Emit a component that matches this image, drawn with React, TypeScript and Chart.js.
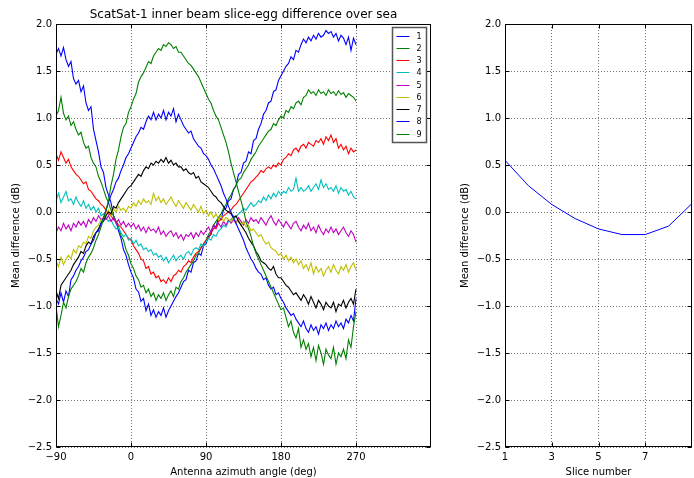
import React, { useEffect, useRef } from 'react';
import { Chart, registerables } from 'chart.js';

Chart.register(...registerables);

// Antenna azimuth angle (deg) sample positions
const angles = [
  -90, -87, -84, -81, -78, -75, -72, -69, -66, -63,
  -60, -57, -54, -51, -48, -45, -42, -39, -36, -33,
  -30, -27, -24, -21, -18, -15, -12, -9, -6, -3,
  0, 3, 6, 9, 12, 15, 18, 21, 24, 27,
  30, 33, 36, 39, 42, 45, 48, 51, 54, 57,
  60, 63, 66, 69, 72, 75, 78, 81, 84, 87,
  90, 93, 96, 99, 102, 105, 108, 111, 114, 117,
  120, 123, 126, 129, 132, 135, 138, 141, 144, 147,
  150, 153, 156, 159, 162, 165, 168, 171, 174, 177,
  180, 183, 186, 189, 192, 195, 198, 201, 204, 207,
  210, 213, 216, 219, 222, 225, 228, 231, 234, 237,
  240, 243, 246, 249, 252, 255, 258, 261, 264, 267,
  270,
];

const slice1 = [
  1.68, 1.74, 1.66, 1.75, 1.62, 1.55, 1.60, 1.42, 1.36, 1.40,
  1.28, 1.34, 1.16, 1.08, 1.12, 0.88, 0.76, 0.64, 0.48, 0.42,
  0.26, 0.18, 0.10, -0.04, -0.10, -0.20, -0.28, -0.40, -0.46, -0.56,
  -0.64, -0.70, -0.82, -0.85, -0.95, -0.92, -1.05, -0.98, -1.10, -1.04,
  -1.12, -1.06, -1.10, -1.02, -1.12, -1.05, -1.00, -0.95, -0.90, -0.86,
  -0.80, -0.74, -0.72, -0.62, -0.64, -0.54, -0.52, -0.44, -0.46, -0.36,
  -0.34, -0.26, -0.24, -0.14, -0.16, -0.06, -0.08, 0.02, 0.04, 0.12,
  0.14, 0.24, 0.28, 0.40, 0.42, 0.52, 0.54, 0.64, 0.62, 0.76,
  0.78, 0.88, 0.94, 1.04, 1.08, 1.16, 1.18, 1.28, 1.30, 1.40,
  1.45, 1.50, 1.55, 1.58, 1.65, 1.62, 1.72, 1.70, 1.78, 1.84,
  1.80, 1.86, 1.82, 1.88, 1.84, 1.90, 1.86, 1.88, 1.93, 1.90,
  1.92, 1.86, 1.90, 1.82, 1.88, 1.85, 1.78, 1.86, 1.72, 1.85,
  1.78,
];

const slice2 = [
  1.02, 1.08, 1.22, 1.05, 0.98, 1.02, 0.92, 0.96, 0.88, 0.82,
  0.85, 0.74, 0.68, 0.70, 0.58, 0.52, 0.48, 0.38, 0.32, 0.24,
  0.16, 0.10, 0.02, -0.04, -0.10, -0.16, -0.25, -0.30, -0.40, -0.46,
  -0.55, -0.60, -0.68, -0.72, -0.80, -0.78, -0.86, -0.82, -0.90, -0.86,
  -0.94, -0.88, -0.92, -0.86, -0.94, -0.88, -0.84, -0.90, -0.80, -0.82,
  -0.74, -0.70, -0.64, -0.60, -0.56, -0.52, -0.46, -0.44, -0.38, -0.34,
  -0.30, -0.24, -0.20, -0.14, -0.10, -0.06, -0.02, 0.04, 0.08, 0.14,
  0.18, 0.24, 0.28, 0.34, 0.36, 0.42, 0.46, 0.50, 0.56, 0.60,
  0.64, 0.70, 0.74, 0.78, 0.82, 0.86, 0.88, 0.94, 0.92, 0.98,
  1.02, 1.00, 1.08, 1.06, 1.12, 1.10, 1.16, 1.18, 1.14, 1.22,
  1.24, 1.30, 1.26, 1.28, 1.24, 1.30, 1.26, 1.28, 1.24, 1.30,
  1.26, 1.28, 1.24, 1.29, 1.25, 1.27, 1.22, 1.26, 1.24, 1.22,
  1.18,
];

const slice3 = [
  0.62, 0.55, 0.64, 0.58, 0.52, 0.56, 0.48, 0.44, 0.40, 0.38,
  0.34, 0.30, 0.32, 0.24, 0.22, 0.18, 0.14, 0.12, 0.08, 0.06,
  0.02, -0.02, -0.04, -0.08, -0.10, -0.14, -0.16, -0.20, -0.24, -0.28,
  -0.30, -0.36, -0.40, -0.44, -0.50, -0.52, -0.60, -0.58, -0.66, -0.64,
  -0.70, -0.68, -0.74, -0.72, -0.76, -0.70, -0.74, -0.68, -0.66, -0.62,
  -0.64, -0.58, -0.56, -0.52, -0.54, -0.48, -0.44, -0.42, -0.38, -0.34,
  -0.30, -0.28, -0.22, -0.18, -0.16, -0.10, -0.08, -0.04, -0.02, 0.00,
  0.02, 0.06, 0.08, 0.12, 0.16, 0.20, 0.24, 0.28, 0.32, 0.34,
  0.37, 0.40, 0.44, 0.42, 0.46, 0.48, 0.46, 0.50, 0.48, 0.52,
  0.50, 0.56, 0.58, 0.62, 0.60, 0.66, 0.68, 0.64, 0.70, 0.72,
  0.68, 0.74, 0.72, 0.70, 0.76, 0.74, 0.78, 0.72, 0.80, 0.76,
  0.82, 0.74, 0.78, 0.68, 0.72, 0.66, 0.70, 0.62, 0.68, 0.64,
  0.66,
];

const slice4 = [
  0.12, 0.20, 0.10, 0.16, 0.22, 0.12, 0.14, 0.08, 0.16, 0.10,
  0.06, 0.12, 0.04, 0.08, 0.02, 0.06, 0.00, 0.04, -0.04, -0.02,
  -0.06, -0.10, -0.08, -0.14, -0.18, -0.16, -0.22, -0.26, -0.24, -0.30,
  -0.28, -0.34, -0.30, -0.36, -0.34, -0.40, -0.38, -0.42, -0.40, -0.46,
  -0.44, -0.48, -0.46, -0.52, -0.48, -0.54, -0.50, -0.46, -0.52, -0.48,
  -0.46, -0.50, -0.44, -0.42, -0.46, -0.40, -0.38, -0.40, -0.34, -0.36,
  -0.32, -0.28, -0.30, -0.24, -0.26, -0.20, -0.18, -0.14, -0.16, -0.10,
  -0.08, -0.04, -0.06, -0.02, 0.00, 0.04, 0.02, 0.06, 0.10, 0.06,
  0.08, 0.12, 0.10, 0.16, 0.12, 0.18, 0.14, 0.20, 0.16, 0.22,
  0.18, 0.22, 0.20, 0.26, 0.22, 0.24, 0.36, 0.22, 0.26, 0.22,
  0.24, 0.28, 0.22, 0.26, 0.30, 0.24, 0.34, 0.26, 0.30, 0.24,
  0.26, 0.22, 0.28, 0.20, 0.26, 0.22, 0.24, 0.18, 0.22, 0.16,
  0.14,
];

const slice5 = [
  -0.22, -0.16, -0.20, -0.12, -0.18, -0.14, -0.20, -0.12, -0.16, -0.10,
  -0.14, -0.10, -0.16, -0.08, -0.12, -0.06, -0.10, -0.04, -0.08, -0.06,
  -0.08, -0.04, -0.10, -0.06, -0.12, -0.08, -0.14, -0.10, -0.16, -0.12,
  -0.16, -0.12, -0.18, -0.14, -0.20, -0.16, -0.22, -0.16, -0.20, -0.18,
  -0.22, -0.16, -0.24, -0.20, -0.26, -0.22, -0.20, -0.26, -0.22, -0.28,
  -0.24, -0.30, -0.24, -0.26, -0.22, -0.28, -0.22, -0.26, -0.20, -0.24,
  -0.20, -0.16, -0.22, -0.14, -0.18, -0.12, -0.16, -0.10, -0.14, -0.08,
  -0.12, -0.08, -0.12, -0.06, -0.10, -0.14, -0.08, -0.12, -0.06, -0.10,
  -0.08, -0.12, -0.06, -0.10, -0.14, -0.08, -0.04, -0.10, -0.14, -0.08,
  -0.12, -0.16, -0.10, -0.14, -0.18, -0.12, -0.10, -0.16, -0.20, -0.14,
  -0.18, -0.12, -0.20, -0.16, -0.22, -0.14, -0.20, -0.24, -0.18, -0.22,
  -0.16, -0.22, -0.18, -0.24, -0.20, -0.16, -0.22, -0.26, -0.20, -0.24,
  -0.32,
];

const slice6 = [
  -0.52, -0.58, -0.48, -0.56, -0.50, -0.46, -0.50, -0.40, -0.44, -0.36,
  -0.38, -0.32, -0.34, -0.26, -0.28, -0.20, -0.16, -0.14, -0.08, -0.06,
  -0.02, 0.02, -0.04, 0.04, 0.00, 0.06, 0.02, 0.04, 0.00, 0.06,
  0.04, 0.10, 0.06, 0.12, 0.08, 0.14, 0.10, 0.12, 0.08, 0.20,
  0.12, 0.16, 0.10, 0.14, 0.08, 0.12, 0.16, 0.10, 0.06, 0.12,
  0.08, 0.04, 0.10, 0.06, 0.02, 0.08, 0.04, 0.00, 0.06, -0.02,
  0.02, -0.04, 0.00, -0.06, -0.02, -0.08, -0.04, -0.10, -0.06, -0.08,
  -0.10, -0.06, -0.12, -0.08, -0.14, -0.10, -0.16, -0.14, -0.20, -0.18,
  -0.22, -0.26, -0.24, -0.30, -0.34, -0.32, -0.38, -0.40, -0.42, -0.46,
  -0.44, -0.50, -0.46, -0.52, -0.48, -0.54, -0.50, -0.56, -0.52, -0.60,
  -0.56, -0.62, -0.54, -0.66, -0.58, -0.64, -0.60, -0.68, -0.62, -0.58,
  -0.64, -0.56, -0.62, -0.66, -0.58, -0.62, -0.56, -0.64, -0.58, -0.54,
  -0.62,
];

const slice7 = [
  -0.84, -0.92, -0.78, -0.74, -0.70, -0.66, -0.62, -0.56, -0.52, -0.48,
  -0.42, -0.44, -0.36, -0.32, -0.34, -0.26, -0.22, -0.18, -0.12, -0.10,
  -0.04, 0.00, -0.02, 0.06, 0.04, 0.10, 0.14, 0.18, 0.22, 0.26,
  0.28, 0.32, 0.36, 0.40, 0.38, 0.44, 0.48, 0.46, 0.52, 0.50,
  0.54, 0.52, 0.56, 0.53, 0.58, 0.52, 0.55, 0.50, 0.52, 0.48,
  0.48, 0.44, 0.46, 0.42, 0.40, 0.42, 0.36, 0.38, 0.32, 0.30,
  0.28, 0.26, 0.22, 0.18, 0.16, 0.12, 0.10, 0.06, 0.02, 0.00,
  -0.02, -0.06, -0.04, -0.10, -0.14, -0.18, -0.22, -0.28, -0.32, -0.36,
  -0.42, -0.46, -0.52, -0.54, -0.56, -0.60, -0.62, -0.58, -0.66, -0.70,
  -0.70, -0.74, -0.78, -0.80, -0.84, -0.88, -0.86, -0.90, -0.94, -0.88,
  -0.92, -0.98, -0.90, -0.96, -1.02, -0.94, -0.98, -1.04, -0.96, -1.00,
  -1.02, -0.96, -1.06, -0.98, -1.00, -0.94, -1.02, -0.96, -0.92, -0.98,
  -0.82,
];

const slice8 = [
  -0.92, -0.98, -0.86, -0.96, -0.84, -0.90, -0.72, -0.68, -0.62, -0.58,
  -0.52, -0.48, -0.42, -0.40, -0.34, -0.30, -0.22, -0.20, -0.12, -0.06,
  0.02, 0.10, 0.18, 0.24, 0.32, 0.36, 0.44, 0.50, 0.58, 0.62,
  0.68, 0.74, 0.80, 0.84, 0.90, 0.88, 0.96, 1.02, 0.98, 1.06,
  0.98, 1.04, 1.00, 1.08, 0.98, 1.06, 1.02, 1.10, 0.96, 1.04,
  0.98, 0.92, 0.88, 0.84, 0.86, 0.78, 0.74, 0.70, 0.68, 0.62,
  0.60, 0.56, 0.50, 0.46, 0.40, 0.34, 0.28, 0.20, 0.14, 0.06,
  0.00, -0.06, -0.12, -0.18, -0.24, -0.30, -0.38, -0.44, -0.50, -0.54,
  -0.60, -0.64, -0.66, -0.72, -0.70, -0.78, -0.82, -0.80, -0.88, -0.86,
  -0.92, -0.96, -1.02, -1.06, -1.10, -1.08, -1.14, -1.18, -1.22, -1.16,
  -1.24, -1.28, -1.20, -1.26, -1.22, -1.30, -1.20, -1.24, -1.18, -1.26,
  -1.20, -1.24, -1.16, -1.22, -1.18, -1.24, -1.14, -1.18, -1.10, -1.16,
  -0.92,
];

const slice9 = [
  -1.00, -1.22, -1.10, -0.96, -1.02, -0.90, -0.82, -0.78, -0.74, -0.68,
  -0.60, -0.64, -0.54, -0.48, -0.44, -0.38, -0.30, -0.24, -0.16, -0.08,
  0.02, 0.12, 0.28, 0.40, 0.56, 0.66, 0.80, 0.90, 0.94, 1.06,
  1.12, 1.20, 1.26, 1.38, 1.44, 1.48, 1.54, 1.60, 1.58, 1.66,
  1.70, 1.74, 1.72, 1.78, 1.76, 1.80, 1.78, 1.74, 1.76, 1.70,
  1.70, 1.66, 1.62, 1.58, 1.56, 1.52, 1.48, 1.44, 1.38, 1.32,
  1.26, 1.20, 1.16, 1.08, 1.02, 0.98, 0.90, 0.82, 0.74, 0.64,
  0.52, 0.42, 0.32, 0.22, 0.12, 0.02, -0.10, -0.18, -0.26, -0.36,
  -0.44, -0.50, -0.56, -0.62, -0.68, -0.74, -0.80, -0.86, -0.92, -0.98,
  -1.04, -1.02, -1.12, -1.22, -1.16, -1.28, -1.34, -1.24, -1.44, -1.36,
  -1.46, -1.40, -1.54, -1.44, -1.58, -1.42, -1.50, -1.62, -1.46, -1.52,
  -1.56, -1.44, -1.62, -1.50, -1.54, -1.46, -1.56, -1.36, -1.44, -1.22,
  -1.06,
];

const seriesLabels = ['1', '2', '3', '4', '5', '6', '7', '8', '9'];
const seriesColors = ['#0000ff', '#008000', '#ff0000', '#00bfbf', '#bf00bf', '#bfbf00', '#000000', '#0000ff', '#008000'];

const angleTicks = [-90, 0, 90, 180, 270];
const diffTicks = [-2.5, -2.0, -1.5, -1.0, -0.5, 0.0, 0.5, 1.0, 1.5, 2.0];

const sliceNumbers = [1, 2, 3, 4, 5, 6, 7, 8, 9];
const sliceMeans = [0.55, 0.28, 0.08, -0.07, -0.18, -0.24, -0.24, -0.15, 0.09];
const sliceTicks = [1, 3, 5, 7];

const FONT = "'DejaVu Sans', 'Liberation Sans', sans-serif";
const fmt = (v: number, d: number) => v.toFixed(d).replace('-', '\u2212');

const framePlugin = {
  id: 'mplFrame',
  afterDraw(chart: any) {
    const { ctx, chartArea } = chart;
    const L = Math.round(chartArea.left) + 0.5;
    const R = Math.round(chartArea.right) - 0.5;
    const T = Math.round(chartArea.top) + 0.5;
    const B = Math.round(chartArea.bottom) - 0.5;
    ctx.save();
    ctx.strokeStyle = '#000';
    ctx.lineWidth = 1;
    ctx.setLineDash([]);
    ctx.strokeRect(L, T, R - L, B - T);
    const xs = chart.scales.x;
    const ys = chart.scales.y;
    ctx.beginPath();
    xs.ticks.forEach((t: any) => {
      const px = Math.round(xs.getPixelForValue(t.value)) + 0.5;
      ctx.moveTo(px, B); ctx.lineTo(px, B - 4);
      ctx.moveTo(px, T); ctx.lineTo(px, T + 4);
    });
    ys.ticks.forEach((t: any) => {
      const py = Math.round(ys.getPixelForValue(t.value)) + 0.5;
      ctx.moveTo(L, py); ctx.lineTo(L + 4, py);
      ctx.moveTo(R, py); ctx.lineTo(R - 4, py);
    });
    ctx.stroke();
    ctx.restore();
  },
};

const boxLegendPlugin = {
  id: 'boxLegend',
  afterDraw(chart: any) {
    const { ctx, chartArea } = chart;
    const x0 = Math.round(chartArea.right) - 38.5;
    const y0 = Math.round(chartArea.top) + 3.5;
    const w = 34;
    const h = 115;
    ctx.save();
    ctx.fillStyle = '#fff';
    ctx.fillRect(x0, y0, w, h);
    ctx.strokeStyle = '#555';
    ctx.lineWidth = 1.5;
    ctx.setLineDash([]);
    ctx.strokeRect(x0, y0, w, h);
    ctx.font = `8px ${FONT}`;
    ctx.textBaseline = 'middle';
    ctx.textAlign = 'left';
    chart.data.datasets.forEach((ds: any, i: number) => {
      const y = Math.round(y0 + 8 + i * 12.25) + 0.5;
      ctx.strokeStyle = ds.borderColor;
      ctx.lineWidth = 1;
      ctx.beginPath();
      ctx.moveTo(x0 + 4, y);
      ctx.lineTo(x0 + 17, y);
      ctx.stroke();
      ctx.fillStyle = '#000';
      ctx.fillText(ds.label, x0 + 24, y);
    });
    ctx.restore();
  },
};

const gridOpts = { color: 'rgba(0,0,0,0.55)', lineWidth: 1, drawTicks: false };
const borderOpts = { display: false, dash: [1, 2] };
const tickFont = { family: FONT, size: 10 };
const titleFont = { family: FONT, size: 10 };

export default function App() {
  const leftRef = useRef<HTMLCanvasElement>(null);
  const rightRef = useRef<HTMLCanvasElement>(null);

  useEffect(() => {
    const series = [slice1, slice2, slice3, slice4, slice5, slice6, slice7, slice8, slice9];
    const left = new Chart(leftRef.current as HTMLCanvasElement, {
      type: 'line',
      data: {
        datasets: series.map((s, i) => ({
          label: seriesLabels[i],
          data: s.map((v, j) => ({ x: angles[j], y: v })),
          borderColor: seriesColors[i],
          backgroundColor: seriesColors[i],
          borderWidth: 1.1,
          pointRadius: 0,
          tension: 0,
          fill: false,
          order: series.length - 1 - i,
        })),
      },
      options: {
        responsive: false,
        animation: false,
        devicePixelRatio: 1,
        events: [],
        layout: { padding: { left: 0, right: 19, top: 0, bottom: 0 } },
        plugins: {
          legend: { display: false },
          tooltip: { enabled: false },
          title: {
            display: true,
            text: 'ScatSat-1 inner beam slice-egg difference over sea',
            font: { family: FONT, size: 12, weight: 'normal' },
            color: '#000',
            padding: { top: 8, bottom: 1.6 },
            fullSize: false,
          },
        },
        scales: {
          x: {
            type: 'linear',
            min: -90,
            max: 360,
            afterBuildTicks: (scale: any) => { scale.ticks = angleTicks.map((v) => ({ value: v })); },
            afterFit: (scale: any) => { scale.height = 31; },
            ticks: { autoSkip: false, maxRotation: 0, padding: 4, color: '#000', font: tickFont, callback: (v: any) => fmt(Number(v), 0) },
            grid: gridOpts,
            border: borderOpts,
            title: { display: true, text: 'Antenna azimuth angle (deg)', color: '#000', font: titleFont, padding: { top: 0, bottom: 0 } },
          },
          y: {
            type: 'linear',
            min: -2.5,
            max: 2.0,
            afterBuildTicks: (scale: any) => { scale.ticks = diffTicks.map((v) => ({ value: v })); },
            afterFit: (scale: any) => { scale.width = 56; },
            ticks: { autoSkip: false, padding: 4, color: '#000', font: tickFont, callback: (v: any) => fmt(Number(v), 1) },
            grid: gridOpts,
            border: borderOpts,
            title: { display: true, text: 'Mean difference (dB)', color: '#000', font: titleFont, padding: { top: 10, bottom: 0 } },
          },
        },
      } as any,
      plugins: [framePlugin, boxLegendPlugin],
    });

    const right = new Chart(rightRef.current as HTMLCanvasElement, {
      type: 'line',
      data: {
        datasets: [{
          label: 'Mean',
          data: sliceMeans.map((v, j) => ({ x: sliceNumbers[j], y: v })),
          borderColor: '#0000ff',
          backgroundColor: '#0000ff',
          borderWidth: 1,
          pointRadius: 0,
          tension: 0,
          fill: false,
        }],
      },
      options: {
        responsive: false,
        animation: false,
        devicePixelRatio: 1,
        events: [],
        layout: { padding: { left: 0, right: 2, top: 24, bottom: 0 } },
        plugins: { legend: { display: false }, tooltip: { enabled: false }, title: { display: false } },
        scales: {
          x: {
            type: 'linear',
            min: 1,
            max: 9,
            afterBuildTicks: (scale: any) => { scale.ticks = sliceTicks.map((v) => ({ value: v })); },
            afterFit: (scale: any) => { scale.height = 31; },
            ticks: { autoSkip: false, maxRotation: 0, padding: 4, color: '#000', font: tickFont, callback: (v: any) => fmt(Number(v), 0) },
            grid: gridOpts,
            border: borderOpts,
            title: { display: true, text: 'Slice number', color: '#000', font: titleFont, padding: { top: 0, bottom: 0 } },
          },
          y: {
            type: 'linear',
            min: -2.5,
            max: 2.0,
            afterBuildTicks: (scale: any) => { scale.ticks = diffTicks.map((v) => ({ value: v })); },
            afterFit: (scale: any) => { scale.width = 55; },
            ticks: { autoSkip: false, padding: 4, color: '#000', font: tickFont, callback: (v: any) => fmt(Number(v), 1) },
            grid: gridOpts,
            border: borderOpts,
            title: { display: true, text: 'Mean difference (dB)', color: '#000', font: titleFont, padding: { top: 9, bottom: 0 } },
          },
        },
      } as any,
      plugins: [framePlugin],
    });

    return () => {
      left.destroy();
      right.destroy();
    };
  }, []);

  return (
    <div style={{ position: 'absolute', left: 0, top: 0, width: 694, height: 478, background: '#fff' }}>
      <canvas ref={leftRef} width={450} height={478} style={{ position: 'absolute', left: 0, top: 0, width: 450, height: 478 }} />
      <canvas ref={rightRef} width={244} height={478} style={{ position: 'absolute', left: 450, top: 0, width: 244, height: 478 }} />
    </div>
  );
}
